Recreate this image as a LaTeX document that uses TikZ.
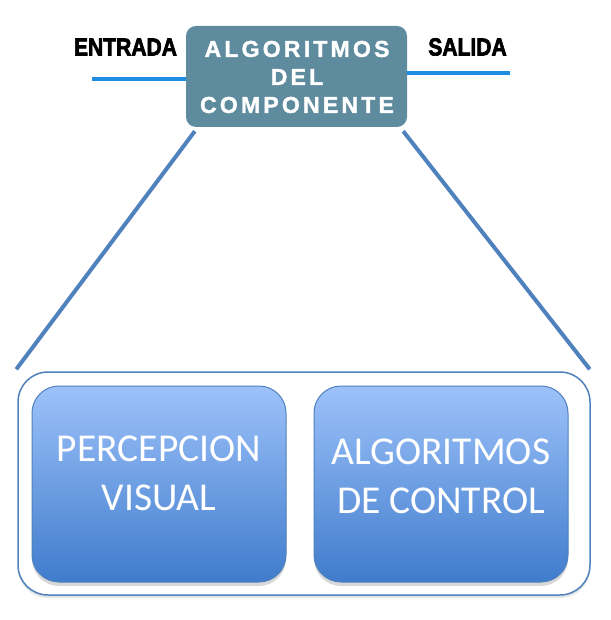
\documentclass[tikz,border=0pt]{standalone}
\usepackage{fontspec}
\setmainfont{Carlito}
\newfontfamily\headfont[LetterSpace=14,FakeBold=1.5]{Liberation Sans Bold}
\newfontfamily\iofont[FakeBold=3]{Liberation Sans Bold}
\usetikzlibrary{shadows}
\definecolor{compteal}{RGB}{94,139,158}
\definecolor{ioblue}{RGB}{30,140,225}
\definecolor{linkblue}{RGB}{79,129,189}
\definecolor{boxtop}{RGB}{157,194,250}
\definecolor{boxbot}{RGB}{64,124,204}

\begin{document}
\begin{tikzpicture}[x=1pt,y=-1pt,
  algbox/.style={rectangle,rounded corners=10pt,fill=compteal,minimum width=221pt,minimum height=101pt},
  headtext/.style={text=white,align=center,font=\headfont\fontsize{23}{28}\selectfont},
  iotext/.style={text=black,font=\iofont\fontsize{24.5}{24.5}\selectfont,xscale=0.86},
  ioline/.style={draw=ioblue,line width=4.5pt},
  link/.style={draw=linkblue,line width=4pt},
  outerbox/.style={rectangle,rounded corners=30pt,draw=linkblue,line width=1.5pt,fill=white,
    minimum width=572pt,minimum height=223pt,
    drop shadow={opacity=0.2,shadow xshift=0pt,shadow yshift=-3pt}},
  blockbox/.style={rectangle,rounded corners=27pt,draw=linkblue,line width=1pt,
    top color=boxtop,bottom color=boxbot,minimum width=254pt,minimum height=196pt,
    drop shadow={opacity=0.3,shadow xshift=0pt,shadow yshift=-4pt}},
  blocktext/.style={text=white,align=center,font=\fontsize{39.5}{49}\selectfont}]
\useasboundingbox (0,0) rectangle (610,620);
% top component
\node (comp) at (296.5,76.5) [algbox]{};
\node (comptext) at (297,77) [headtext]{ALGORITMOS\\DEL\\COMPONENTE};
\node (entrada) at (125.5,47) [iotext]{ENTRADA};
\node (salida) at (467.5,47) [iotext]{SALIDA};
\coordinate (in) at (92,79);
\coordinate (out) at (510,73);
\draw[ioline] (in) -- (comp.west |- in);
\draw[ioline] (comp.east |- out) -- (out);
% container
\node (cont) at (304,483.5) [outerbox]{};
\draw[link] ([xshift=9pt,yshift=-4pt]comp.south west) -- ([xshift=-1pt,yshift=2pt]cont.north west);
\draw[link] ([xshift=-4pt,yshift=-4pt]comp.south east) -- ([xshift=-1pt,yshift=2pt]cont.north east);
\node (pv) at (159,484) [blockbox]{};
\node (ctl) at (441,484) [blockbox]{};
\node (pvtext) at ([yshift=11pt]pv.center) [blocktext]{PERCEPCION\\VISUAL};
\node (ctltext) at ([yshift=8pt]ctl.center) [blocktext]{ALGORITMOS\\DE CONTROL};
\end{tikzpicture}
\end{document}
